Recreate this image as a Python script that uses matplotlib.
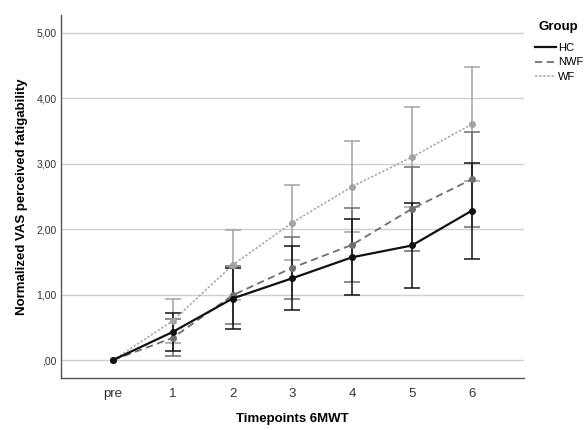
import matplotlib.pyplot as plt
from matplotlib.ticker import FuncFormatter

plt.rcParams['font.family'] = ['Liberation Sans', 'DejaVu Sans']

timepoints = ['pre', '1', '2', '3', '4', '5', '6']

hc_mean = [0.0, 0.43, 0.94, 1.25, 1.57, 1.75, 2.28]
hc_err = [0.0, 0.285, 0.465, 0.49, 0.58, 0.65, 0.73]

nwf_mean = [0.0, 0.34, 0.99, 1.41, 1.76, 2.31, 2.76]
nwf_err = [0.0, 0.285, 0.44, 0.47, 0.57, 0.64, 0.72]

wf_mean = [0.0, 0.60, 1.45, 2.10, 2.65, 3.10, 3.60]
wf_err = [0.0, 0.34, 0.54, 0.57, 0.69, 0.76, 0.87]

groups = [
    ('HC', hc_mean, hc_err, '#111111', '-', 1.6),
    ('NWF', nwf_mean, nwf_err, '#6e6e6e', (0, (4, 2.5)), 1.3),
    ('WF', wf_mean, wf_err, '#a3a3a3', (0, (1.5, 1.2)), 1.1),
]

fig = plt.figure(figsize=(5.87, 4.30), dpi=100)
ax = fig.add_axes([0.104, 0.120, 0.789, 0.845])

x = list(range(len(timepoints)))
handles = []
# draw back to front so HC ends up on top
for name, mean, err, color, ls, lw in reversed(groups):
    ax.errorbar(x[1:], mean[1:], yerr=err[1:], fmt='none', ecolor=color,
                elinewidth=1.1, capsize=5.5, capthick=1.1, zorder=3)
    line, = ax.plot(x, mean, color=color, linestyle=ls, linewidth=lw,
                    marker='o', markersize=4, zorder=4, label=name)
    handles.append(line)

ax.set_xlim(-0.87, 6.88)
ax.set_ylim(-0.28, 5.27)
ax.set_xticks(x)
ax.set_xticklabels(timepoints)
ax.set_yticks([0, 1, 2, 3, 4, 5])
ax.yaxis.set_major_formatter(FuncFormatter(
    lambda v, p: ',00' if v == 0 else f'{v:.2f}'.replace('.', ',')))
ax.tick_params(axis='y', length=0, labelsize=7.5, labelcolor='#333333', pad=3)
ax.tick_params(axis='x', length=0, labelsize=9.5, labelcolor='#333333', pad=7)

ax.grid(axis='y', color='#cfcfcf', linewidth=1)
ax.set_axisbelow(True)
for s in ['top', 'right']:
    ax.spines[s].set_visible(False)
for s in ['left', 'bottom']:
    ax.spines[s].set_color('#555555')
    ax.spines[s].set_linewidth(1)

ax.set_xlabel('Timepoints 6MWT', fontsize=9.5, fontweight='bold', labelpad=9.5)
ax.set_ylabel('Normalized VAS perceived fatigability', fontsize=9.5,
              fontweight='bold', labelpad=6)

# legend title placed by hand, entries below it
fig.text(558 / 587, 1 - 27 / 430, 'Group', fontsize=9.5, fontweight='bold',
         ha='center', va='center')
leg = fig.legend(handles[::-1], [g[0] for g in groups],
                 loc='upper left', bbox_to_anchor=(535 / 587, 1 - 43 / 430),
                 frameon=False, fontsize=8, handlelength=1.9,
                 handletextpad=0.2, labelspacing=0.4, borderpad=0,
                 borderaxespad=0)
for h in leg.legend_handles:
    h.set_marker('')

fig.savefig('out.png', dpi=100)
